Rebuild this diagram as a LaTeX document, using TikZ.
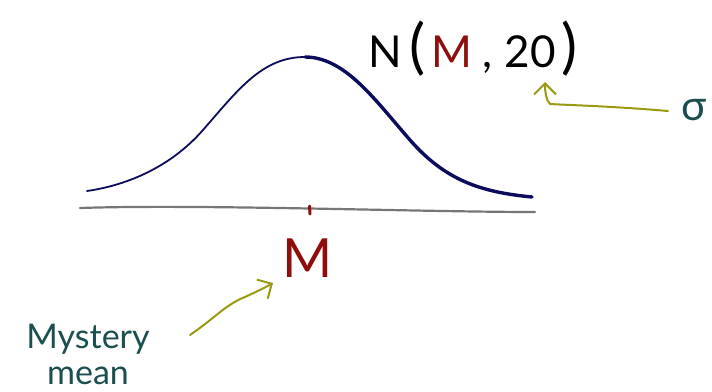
\documentclass[tikz,border=0pt]{standalone}
\usepackage{fontspec}
\setmainfont{Lato}
\usetikzlibrary{arrows.meta}
\definecolor{curvenavy}{HTML}{0C0C5C}
\definecolor{mred}{HTML}{8E0D0D}
\definecolor{axisgray}{HTML}{767676}
\definecolor{olivearrow}{HTML}{9A9A12}
\definecolor{tealtext}{HTML}{1B4E4E}
\tikzset{
  hand/.style={line cap=round, line join=round},
  pointer/.style={hand, draw=olivearrow, line width=2pt, -{Straight Barb[length=11pt,width=22pt,line width=2pt]}},
  tealnote/.style={text=tealtext, inner sep=0pt},
}
\newcommand{\bigparen}[1]{{\fontsize{60}{60}\selectfont #1}}
\begin{document}
\begin{tikzpicture}[x=1pt,y=-1pt]
\useasboundingbox (0,0) rectangle (712,391);
% axis
\coordinate (axL) at (80,208);
\coordinate (axR) at (535,212);
\draw[hand, axisgray, line width=2.2pt] (axL) .. controls (200,204) and (420,212) .. (axR);
% bell curve, left thin part
\draw[hand, curvenavy, line width=1.8pt]
  (87,191) .. controls (122,186) and (168,170) .. (203,130)
  .. controls (238,90) and (262,57) .. (305,57);
\draw[hand, curvenavy, line width=3.4pt]
  (305,57) .. controls (345,57) and (375,100) .. (410,140)
  .. controls (445,180) and (480,192) .. (532,197);
% tick
\draw[hand, mred, line width=3pt] (309.5,206) -- (310,214);
% labels
\node[text=mred, font=\fontsize{54}{54}\selectfont, inner sep=0pt] (mlab) at (308,258) {M};
\node[inner sep=0pt, font=\fontsize{44}{44}\selectfont, anchor=base west] (dist) at (368,67)
  {N\hspace{8pt}\bigparen{(}\hspace{6pt}\textcolor{mred}{M}\hspace{10pt},\hspace{12pt}20\hspace{6pt}\bigparen{)}};
\node[tealnote, font=\fontsize{34}{36}\selectfont, align=center, anchor=base] (myst) at (88,384) {Mystery\\mean};
\node[tealnote, font=\fontsize{42}{42}\selectfont] (sigma) at (694,110) {σ};
% pointers
\coordinate (sigStart) at (668,111);
\coordinate (sigEnd) at (545,82);
\draw[pointer] (sigStart) .. controls (610,106) and (565,105) .. (550,104) .. controls (546,100) and (545,92) .. (sigEnd);
\coordinate (mysStart) at (190,335);
\coordinate (mysEnd) at (273,283);
\draw[pointer] (mysStart) .. controls (215,318) and (225,305) .. (245,297) .. controls (258,291) and (266,287) .. (mysEnd);
\end{tikzpicture}
\end{document}
